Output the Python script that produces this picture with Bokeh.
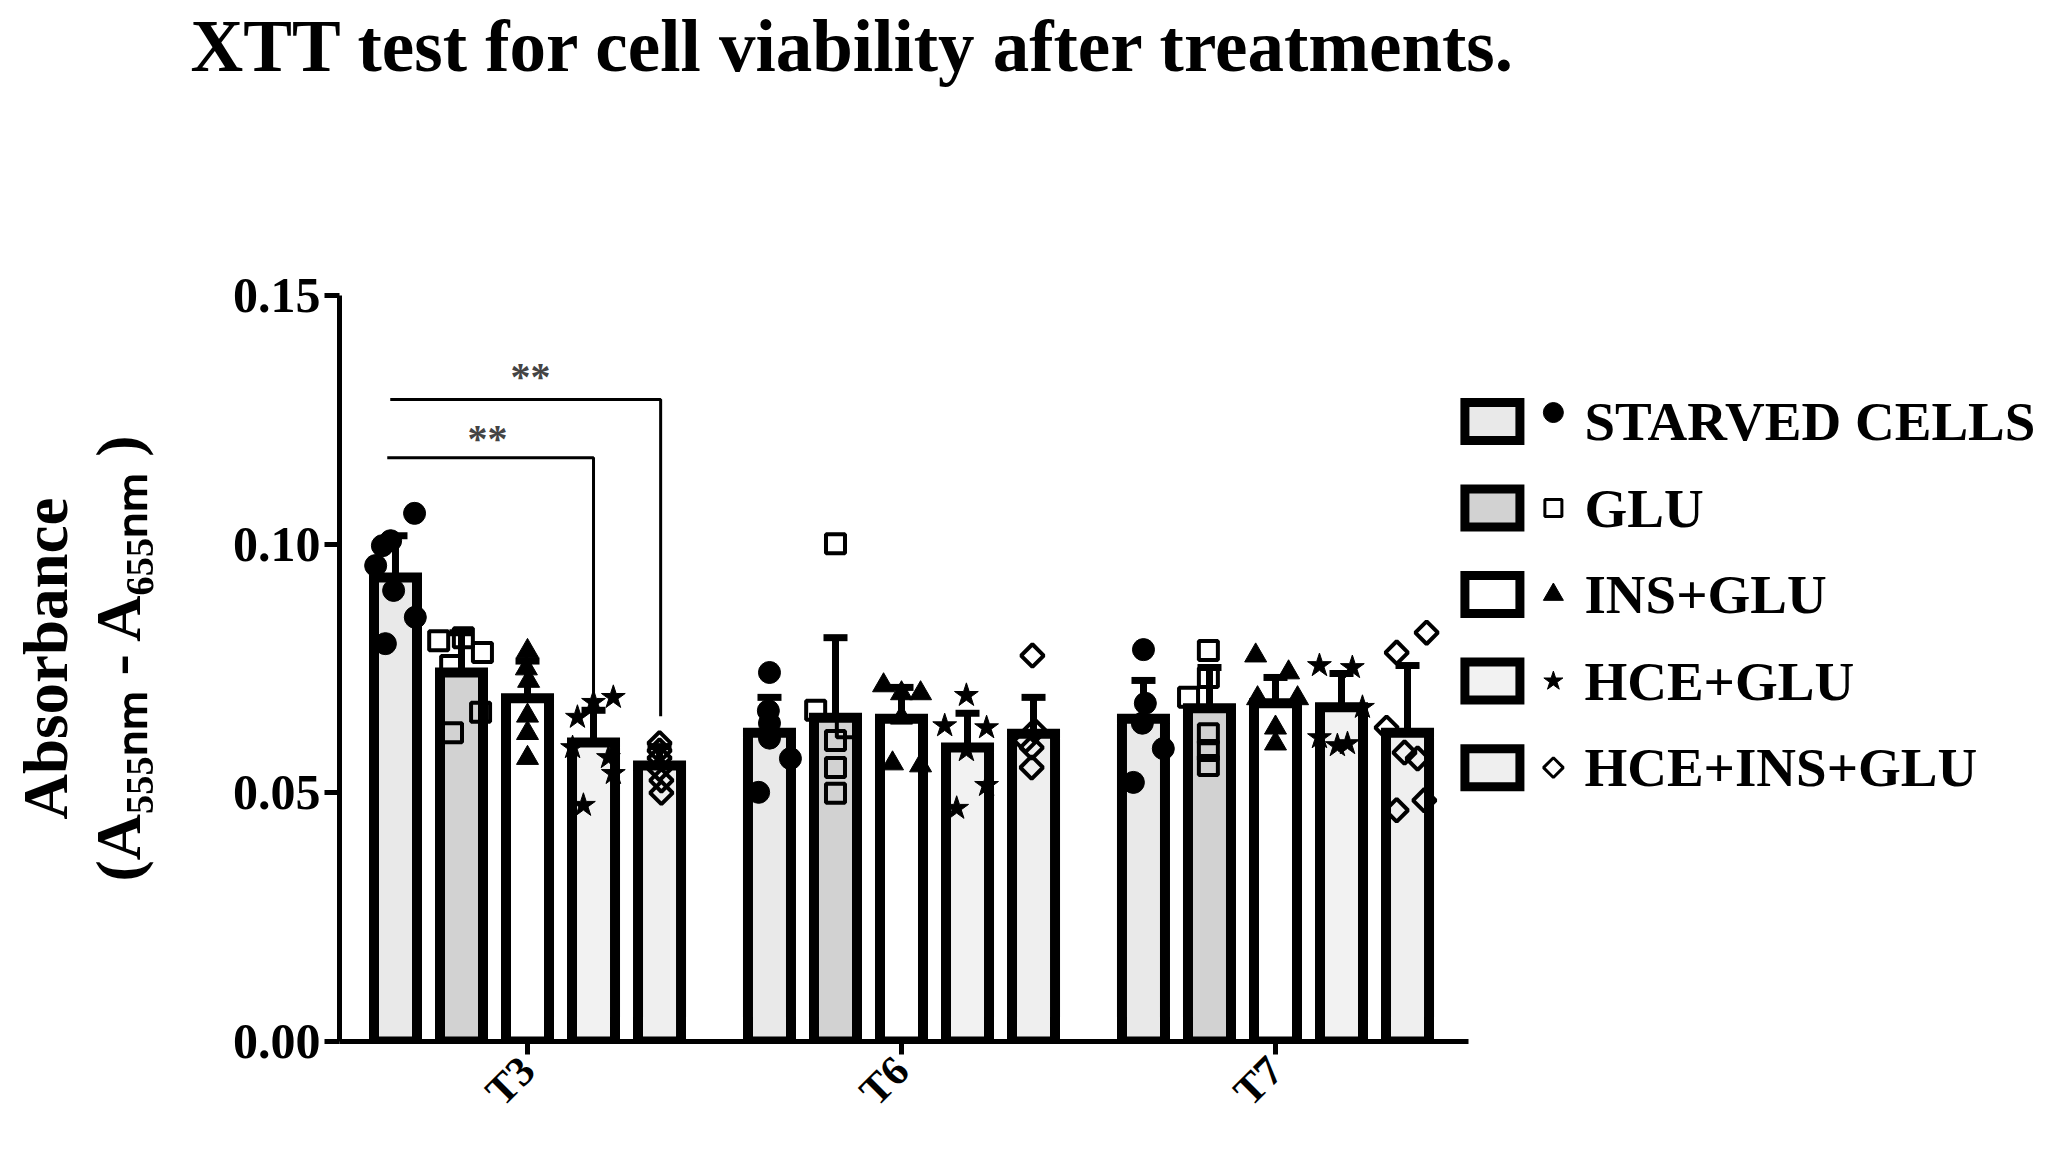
import math
from bokeh.plotting import figure
from bokeh.models import (Range1d, FixedTicker, Label, Whisker, ColumnDataSource,
                          TeeHead, NumeralTickFormatter, LinearAxis, Title)
from bokeh.embed import file_html
from bokeh.resources import INLINE

# ---------------- data ----------------
timepoints = ["T3", "T6", "T7"]
treatments = ["STARVED  CELLS", "GLU", "INS+GLU", "HCE+GLU", "HCE+INS+GLU"]

mean_starved = [0.0933, 0.0621, 0.0649]
mean_glu = [0.0742, 0.0651, 0.0670]
mean_ins_glu = [0.0690, 0.0649, 0.0680]
mean_hce_glu = [0.0601, 0.0591, 0.0672]
mean_hce_ins_glu = [0.0555, 0.0619, 0.0621]

sd_starved = [0.0084, 0.0071, 0.0077]
sd_glu = [0.0080, 0.0161, 0.0082]
sd_ins_glu = [0.0075, 0.0063, 0.0052]
sd_hce_glu = [0.0065, 0.0069, 0.0068]
sd_hce_ins_glu = [0.0038, 0.0073, 0.0135]

pts_starved = [[0.1062, 0.1007, 0.0997, 0.0957, 0.0907, 0.0853, 0.0800],
               [0.0742, 0.0665, 0.0640, 0.0610, 0.0569, 0.0501],
               [0.0788, 0.0680, 0.0640, 0.0589, 0.0521]]
pts_glu = [[0.0806, 0.0812, 0.0782, 0.0756, 0.0662, 0.0621],
           [0.1001, 0.0666, 0.0631, 0.0605, 0.0551, 0.0499],
           [0.0786, 0.0732, 0.0692, 0.0619, 0.0585, 0.0555]]
pts_ins_glu = [[0.0785, 0.0750, 0.0725, 0.0655, 0.0620, 0.0570],
               [0.0716, 0.0700, 0.0700, 0.0651, 0.0559, 0.0555],
               [0.0776, 0.0742, 0.0690, 0.0690, 0.0631, 0.0599]]
pts_hce_glu = [[0.0692, 0.0682, 0.0652, 0.0591, 0.0571, 0.0539, 0.0475],
               [0.0696, 0.0635, 0.0631, 0.0585, 0.0515, 0.0469],
               [0.0756, 0.0752, 0.0672, 0.0611, 0.0595, 0.0599]]
pts_hce_ins_glu = [[0.0600, 0.0585, 0.0570, 0.0548, 0.0525, 0.0500],
                   [0.0776, 0.0625, 0.0605, 0.0591, 0.0551],
                   [0.0822, 0.0782, 0.0631, 0.0581, 0.0569, 0.0485, 0.0465]]

# horizontal scatter of the replicate points inside each bar (category units)
jit_starved = [[0.051, -0.013, -0.035, -0.053, -0.005, 0.053, -0.027],
               [0.0, -0.003, 0.0, 0.0, 0.056, -0.029],
               [0.0, 0.005, -0.003, 0.053, -0.027]]
jit_glu = [[-0.061, 0.005, 0.056, -0.029, 0.051, -0.024],
           [0.0, -0.053, 0.029, 0.0, 0.0, 0.0],
           [-0.003, -0.003, -0.056, -0.003, -0.003, -0.003]]
jit_ins_glu = [[0.0, -0.003, 0.003, 0.0, 0.0, 0.0],
               [-0.048, 0.051, 0.0, 0.0, -0.024, 0.051],
               [-0.053, 0.035, -0.048, 0.059, 0.0, 0.0]]
jit_hce_glu = [[0.053, 0.0, -0.043, -0.056, 0.040, 0.053, -0.027],
               [-0.003, -0.061, 0.051, -0.003, 0.051, -0.029],
               [-0.059, 0.029, 0.056, -0.059, -0.011, 0.016]]
jit_hce_ins_glu = [[0.0, 0.0, 0.0, 0.0, 0.005, 0.005],
                   [-0.003, 0.003, -0.021, -0.005, -0.005],
                   [0.051, -0.029, -0.056, -0.008, 0.027, 0.045, -0.029]]

y_ticks = [0.00, 0.05, 0.10, 0.15]
sig_label = "**"
title_text = "XTT  test for cell viability after treatments."
ylabel_1 = "Absorbance"
ylabel_2 = "(A\u2085\u2085\u2085\u2099\u2098 - A\u2086\u2085\u2085\u2099\u2098 )"

# ---------------- styling ----------------
FONT = "Liberation Serif"
bar_fills = ["#e9e9e9", "#d2d2d2", "#ffffff", "#f2f2f2", "#efefef"]
markers = [
    dict(marker="circle", size=22, fill_color="black", line_color="black", line_width=1, angle=0),
    dict(marker="square", size=19, fill_color=None, line_color="black", line_width=4, angle=0),
    dict(marker="triangle", size=22, fill_color="black", line_color="black", line_width=1, angle=0),
    dict(marker="star", size=25, fill_color="black", line_color="black", line_width=1, angle=0),
    dict(marker="square", size=16, fill_color=None, line_color="black", line_width=4, angle=math.pi / 4),
]
legend_markers = [
    dict(marker="circle", size=20, fill_color="black", line_color="black", line_width=1, angle=0),
    dict(marker="square", size=17, fill_color=None, line_color="black", line_width=3, angle=0),
    dict(marker="triangle", size=20, fill_color="black", line_color="black", line_width=1, angle=0),
    dict(marker="star", size=20, fill_color="black", line_color="black", line_width=1, angle=0),
    dict(marker="square", size=14, fill_color=None, line_color="black", line_width=3, angle=math.pi / 4),
]

means = [mean_starved, mean_glu, mean_ins_glu, mean_hce_glu, mean_hce_ins_glu]
sds = [sd_starved, sd_glu, sd_ins_glu, sd_hce_glu, sd_hce_ins_glu]
pts = [pts_starved, pts_glu, pts_ins_glu, pts_hce_glu, pts_hce_ins_glu]
jits = [jit_starved, jit_glu, jit_ins_glu, jit_hce_glu, jit_hce_ins_glu]

bar_step = 0.1765
bar_w = 0.115
offsets = [(i - 2) * bar_step for i in range(5)]

W, H = 2043, 1133
X0, X1 = -0.5027, 4.0535
Y1 = 0.19203
p = figure(width=W, height=H, output_backend="svg", toolbar_location=None,
           x_range=Range1d(X0, X1), y_range=Range1d(0, Y1),
           min_border_left=339, min_border_right=0,
           min_border_top=86, min_border_bottom=92)
p.outline_line_color = None
p.xgrid.visible = False
p.ygrid.visible = False
p.background_fill_color = "white"
p.border_fill_color = "white"

# title
p.title.text = title_text
p.title.text_font = FONT
p.title.text_font_size = "73px"
p.title.text_font_style = "bold"
p.title.text_color = "black"
p.title.align = "left"
p.title.offset = -149
p.title.standoff = 0

# bars
for s in range(5):
    xs = [g + offsets[s] for g in range(3)]
    p.vbar(x=xs, top=means[s], bottom=0, width=bar_w, fill_color=bar_fills[s],
           line_color="black", line_width=10, line_join="miter")

# error bars (upper SD)
for s in range(5):
    xs = [g + offsets[s] for g in range(3)]
    src = ColumnDataSource(dict(x=xs, lower=means[s],
                                upper=[m + d for m, d in zip(means[s], sds[s])]))
    w = Whisker(source=src, base="x", lower="lower", upper="upper", dimension="height",
                line_color="black", line_width=7,
                upper_head=TeeHead(size=24, line_width=7, line_color="black"),
                lower_head=None)
    p.add_layout(w)

# individual points
for s in range(5):
    xs, ys = [], []
    for g in range(3):
        for v, j in zip(pts[s][g], jits[s][g]):
            xs.append(g + offsets[s] + j)
            ys.append(v)
    p.scatter(x=xs, y=ys, **markers[s])

# significance brackets
p.line(x=[offsets[0] - 0.014, offsets[4] + 0.003, offsets[4] + 0.003],
       y=[0.1291, 0.1291, 0.0654], line_color="black", line_width=3)
p.line(x=[offsets[0] - 0.022, offsets[3], offsets[3]],
       y=[0.1174, 0.1174, 0.0694], line_color="black", line_width=3)
for xx, yy in [(0.008, 0.1337), (-0.107, 0.1212)]:
    p.add_layout(Label(x=xx, y=yy, text=sig_label, text_font=FONT, text_font_size="40px",
                       text_font_style="bold", text_align="center", text_baseline="middle"))

# axes
xax = p.below[0]
yax = p.left[0]
yax.ticker = FixedTicker(ticks=y_ticks)
yax.formatter = NumeralTickFormatter(format="0.00")
yax.bounds = (0, 0.15)
xax.ticker = FixedTicker(ticks=[0, 1, 2])
xax.major_label_overrides = {i: t for i, t in enumerate(timepoints)}
xax.bounds = (X0, 2.516)
xax.major_label_orientation = math.pi / 4
for ax in (xax, yax):
    ax.axis_line_width = 5
    ax.axis_line_color = "black"
    ax.major_tick_line_width = 5
    ax.major_tick_line_color = "black"
    ax.major_tick_in = 0
    ax.minor_tick_line_color = None
    ax.major_label_text_font = FONT
    ax.major_label_text_font_style = "bold"
    ax.major_label_text_color = "black"
yax.major_tick_out = 15
yax.major_label_standoff = 4
yax.major_label_text_font_size = "50px"
xax.major_tick_out = 13
xax.major_label_standoff = 9
xax.major_label_text_font_size = "42px"

# blank gap between the tick labels and the y titles
gap = LinearAxis(ticker=FixedTicker(ticks=[0.19]), axis_line_color=None,
                 major_tick_line_color="white", major_tick_line_width=1,
                 minor_tick_line_color=None, major_tick_out=76, major_tick_in=0,
                 major_label_standoff=0, major_label_text_color=None,
                 major_label_overrides={0.19: ""})
p.add_layout(gap, "left")

# y-axis titles (rotated side titles, start measured up from the x axis)
p.add_layout(Title(text=ylabel_2, align="left", offset=160, standoff=0,
                   text_font=FONT, text_font_size="64px", text_font_style="bold",
                   text_color="black"), "left")
p.add_layout(Title(text=ylabel_1, align="left", offset=222, standoff=0,
                   text_font=FONT, text_font_size="63px", text_font_style="bold",
                   text_color="black"), "left")

# legend
leg_box_x, leg_marker_x, leg_text_x = 2.580, 2.743, 2.826
leg_top, leg_step = 0.12467, 0.01740
for s in range(5):
    yy = leg_top - s * leg_step
    p.rect(x=[leg_box_x], y=[yy], width=55, height=38, width_units="screen",
           height_units="screen", fill_color=bar_fills[s], line_color="black",
           line_width=9, line_join="miter")
    p.scatter(x=[leg_marker_x], y=[yy + (0.0018 if s == 0 else 0.0)], **legend_markers[s])
    p.add_layout(Label(x=leg_text_x, y=yy, text=treatments[s],
                       text_font=FONT, text_font_size="55px", text_font_style="bold",
                       text_align="left", text_baseline="middle", text_color="black"))

open("out.html", "w").write(file_html(p, INLINE))
